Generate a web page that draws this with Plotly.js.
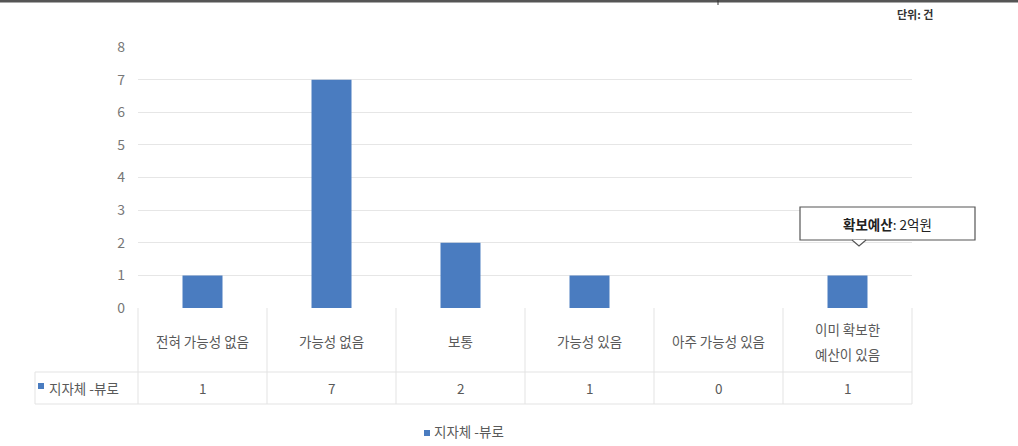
<!DOCTYPE html>
<html>
<head>
<meta charset="utf-8">
<script src="https://cdn.plot.ly/plotly-3.0.1.min.js"></script>
<style>html,body{margin:0;padding:0;background:#fff;}#chart{width:1018px;height:446px;}</style>
</head>
<body>
<div id="chart"></div>
<script>
const categories = ["전혀 가능성 없음", "가능성 없음", "보통", "가능성 있음", "아주 가능성 있음", "이미 확보한\n예산이 있음"];
const seriesName = "지자체 -뷰로";
const values = [1, 7, 2, 1, 0, 1];
const yTicks = [0, 1, 2, 3, 4, 5, 6, 7, 8];
const unitLabel = "단위: 건";
const calloutText = "<b>확보예산</b>: 2억원";

const FONT = "Noto Sans CJK KR, Noto Sans, sans-serif";
const L = 138, R = 912, T = 47, B = 308;
const W = 1018, H = 446;
const pw = R - L, ph = B - T;
const px = x => (x - L) / pw;
const py = y => (B - y) / ph;
const lineColor = "#e3e3e3";
const barColor = "#4a7cc0";

const shapes = [];
const annotations = [];

// top dark rule
shapes.push({type:"line", xref:"paper", yref:"paper", x0:px(0), x1:px(W), y0:py(1), y1:py(1), line:{color:"#555", width:3}});
shapes.push({type:"line", xref:"paper", yref:"paper", x0:px(718), x1:px(718), y0:py(0), y1:py(5), line:{color:"#333", width:1}});

// data table lines
const cellW = pw / categories.length;
const rowMid = 372, rowBot = 404;
shapes.push({type:"line", xref:"paper", yref:"paper", x0:px(35), x1:px(R), y0:py(rowMid), y1:py(rowMid), line:{color:lineColor, width:1}});
shapes.push({type:"line", xref:"paper", yref:"paper", x0:px(35), x1:px(R), y0:py(rowBot), y1:py(rowBot), line:{color:lineColor, width:1}});
for (let i = 0; i <= categories.length; i++) {
  const x = L + i * cellW;
  shapes.push({type:"line", xref:"paper", yref:"paper", x0:px(x), x1:px(x), y0:py(B), y1:py(rowBot), line:{color:lineColor, width:1}});
}
shapes.push({type:"line", xref:"paper", yref:"paper", x0:px(35), x1:px(35), y0:py(rowMid), y1:py(rowBot), line:{color:lineColor, width:1}});

// category labels (each line separately so line spacing matches) and values
categories.forEach((c, i) => {
  const lines = c.split("\n");
  const spacing = 25;
  const y0 = 341 - (lines.length - 1) * spacing / 2;
  lines.forEach((t, k) => {
    annotations.push({xref:"x", yref:"paper", x:c, y:py(y0 + k * spacing), text:t, showarrow:false,
      font:{family:FONT, size:13.5, color:"#595959"}, xanchor:"center", yanchor:"middle"});
  });
  annotations.push({xref:"x", yref:"paper", x:c, y:py(388), text:String(values[i]), showarrow:false,
    font:{family:FONT, size:13.5, color:"#595959"}, xanchor:"center", yanchor:"middle"});
});
// row header
shapes.push({type:"rect", xref:"paper", yref:"paper", x0:px(38), x1:px(44), y0:py(383), y1:py(389), fillcolor:barColor, line:{width:0}});
annotations.push({xref:"paper", yref:"paper", x:px(47), y:py(388), text:seriesName, showarrow:false,
  font:{family:FONT, size:13.5, color:"#595959"}, xanchor:"left", yanchor:"middle"});

// legend (small square + label)
shapes.push({type:"rect", xref:"paper", yref:"paper", x0:px(424), x1:px(430), y0:py(430), y1:py(436), fillcolor:barColor, line:{width:0}});
annotations.push({xref:"paper", yref:"paper", x:px(432), y:py(431), text:seriesName, showarrow:false,
  font:{family:FONT, size:13.5, color:"#595959"}, xanchor:"left", yanchor:"middle"});

// unit label
annotations.push({xref:"paper", yref:"paper", x:px(935), y:py(14), text:"<b>"+unitLabel+"</b>", showarrow:false,
  font:{family:FONT, size:11, color:"#333"}, xanchor:"right", yanchor:"middle"});

// callout box
shapes.push({type:"rect", xref:"paper", yref:"paper", x0:px(800), x1:px(975), y0:py(207), y1:py(240), line:{color:"#555", width:1.2}, fillcolor:"#fff"});
shapes.push({type:"path", xref:"paper", yref:"paper",
  path:`M ${px(852)} ${py(240)} L ${px(859)} ${py(246)} L ${px(866)} ${py(240)}`, line:{color:"#555", width:1.2}, fillcolor:"#fff"});
annotations.push({xref:"paper", yref:"paper", x:px(887), y:py(224), text:calloutText, showarrow:false,
  font:{family:FONT, size:13.5, color:"#222"}, xanchor:"center", yanchor:"middle"});

const trace = {
  type:"bar", x:categories, y:values, name:seriesName,
  marker:{color:barColor}, width:0.31, hoverinfo:"skip", showlegend:false
};

const layout = {
  width:W, height:H,
  margin:{l:L, r:W-R, t:T, b:H-B, pad:0},
  paper_bgcolor:"#fff", plot_bgcolor:"#fff",
  font:{family:FONT, color:"#595959"},
  xaxis:{type:"category", showticklabels:false, showgrid:false, zeroline:false, showline:false, ticks:"", range:[-0.5, categories.length-0.5]},
  yaxis:{range:[0,8], tickvals:yTicks, showgrid:true, gridcolor:"#e6e6e6", gridwidth:1, zeroline:false, showline:false,
    tickfont:{family:FONT, size:14, color:"#777"}, ticks:"", ticklabelstandoff:12},
  showlegend:false,
  shapes:shapes, annotations:annotations
};

Plotly.newPlot("chart", [trace], layout, {displayModeBar:false, staticPlot:true});
</script>
</body>
</html>
